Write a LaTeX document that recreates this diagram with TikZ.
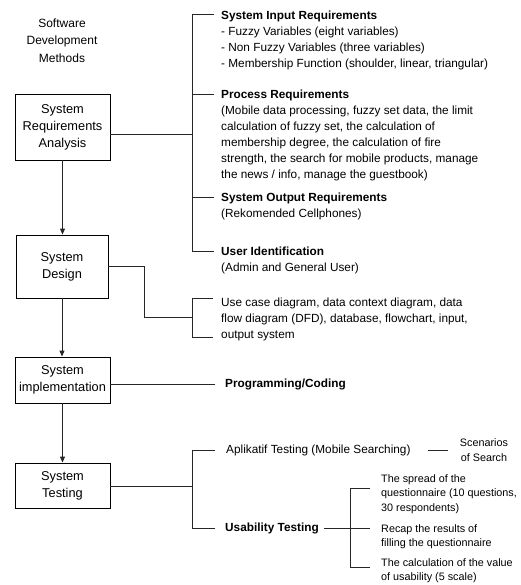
\documentclass[tikz,border=0pt]{standalone}
\usepackage{fontspec}
\setmainfont{Liberation Sans}
\usetikzlibrary{arrows.meta}

\newcommand{\stagefont}{\fontsize{12.8}{17}\selectfont}
\newcommand{\notefont}{\fontsize{11.8}{16}\selectfont}
\newcommand{\subnotefont}{\fontsize{10.8}{14.5}\selectfont}

\tikzset{
  stage/.style={draw, line width=0.9pt, align=center, font=\stagefont,
    minimum width=95, inner sep=0pt},
  note/.style={anchor=north west, align=left, inner sep=0pt, font=\notefont},
  subnote/.style={note, font=\subnotefont},
  link/.style={line width=0.9pt, draw=black!85},
  flow/.style={link, -{Triangle[length=6pt,width=5pt]}}
}

\begin{document}
\begin{tikzpicture}[x=1pt, y=-1pt]
    \useasboundingbox (0,0) rectangle (520,585);
    % left column: the four stages
    \node[font=\fontsize{12}{17.5}\selectfont, align=center] (sdm) at (62,40.5) {Software\\Development\\Methods};
    \node[stage, minimum height=66] (sra) at (62.5,127) {System\\Requirements\\Analysis};
    \node[stage, minimum width=92, minimum height=63] (sd) at (62,266.5) {System\\Design};
    \node[stage, minimum height=46] (si) at (62.5,380) {System\\implementation};
    \node[stage, minimum height=45] (st) at (62.5,485.5) {System\\Testing};
    \draw[flow] (sra.south) -- (sra.south |- sd.north);
    \draw[flow] (sd.south) -- (sd.south |- si.north);
    \draw[flow] (si.south) -- (si.south |- st.north);

    % requirements
    \node[note] (inreq) at (221,11) {\textbf{System Input Requirements}\\- Fuzzy Variables (eight variables)\\- Non Fuzzy Variables (three variables)\\- Membership Function (shoulder, linear, triangular)};
    \node[note] (procreq) at (221,90) {\textbf{Process Requirements}\\(Mobile data processing, fuzzy set data, the limit\\calculation of fuzzy set, the calculation of\\membership degree, the calculation of fire\\strength, the search for mobile products, manage\\the news / info, manage the guestbook)};
    \node[note] (outreq) at (221,193) {\textbf{System Output Requirements}\\(Rekomended Cellphones)};
    \node[note] (userid) at (221,247) {\textbf{User Identification}\\(Admin and General User)};
    \coordinate (rqj) at (192,134);
    \coordinate (rq1) at (214,14);
    \coordinate (rq2) at (214,94);
    \coordinate (rq3) at (214,197);
    \coordinate (rq4) at (214,251);
    \draw[link] ([yshift=-7pt]sra.east) -- (rqj);
    \draw[link] (rq1) -| (rqj |- rq4) -- (rq4);
    \draw[link] (rq2) -- (rqj |- rq2);
    \draw[link] (rq3) -- (rqj |- rq3);

    % design
    \node[note] (dsgn) at (221,298) {Use case diagram, data context diagram, data\\flow diagram (DFD), database, flowchart, input,\\output system};
    \coordinate (dsk) at (144,317);
    \coordinate (dsj) at (192,317);
    \coordinate (ds1) at (213,298);
    \coordinate (ds2) at (213,337);
    \draw[link] (sd.east) -| (dsk) -- (dsj);
    \draw[link] (ds1) -| (dsj |- ds2) -- (ds2);

    % implementation
    \node[note, anchor=west, font=\notefont\bfseries] (coding) at (225,384) {Programming/Coding};
    \coordinate (cdt) at (215,384);
    \draw[link] (si.east |- cdt) -- (cdt);

    % testing
    \node[note, anchor=west] (aplik) at (226,450) {Aplikatif Testing (Mobile Searching)};
    \node[note, anchor=west, font=\notefont\bfseries] (usab) at (225,528) {Usability Testing};
    \coordinate (tsj) at (192,486);
    \coordinate (ts1) at (215,450);
    \coordinate (ts2) at (215,528);
    \draw[link] (st.east |- tsj) -- (tsj);
    \draw[link] (ts1) -| (tsj |- ts2) -- (ts2);

    \node[font=\subnotefont, align=center, inner sep=0pt] (scen) at (484,450) {Scenarios\\of Search};
    \draw[link] (428,450) coordinate (sc1) -- (448,450) coordinate (sc2);

    \node[subnote] (spread) at (381,474) {The spread of the\\questionnaire (10 questions,\\30 respondents)};
    \node[subnote] (recap) at (381,524) {Recap the results of\\filling the questionnaire};
    \node[subnote] (calc) at (381,558) {The calculation of the value\\of usability (5 scale)};
    \coordinate (usj) at (350,528);
    \coordinate (us1) at (370,488);
    \coordinate (us2) at (370,528);
    \coordinate (us3) at (370,567);
    \draw[link] ([xshift=5pt]usab.east) -- (us2);
    \draw[link] (us1) -| (usj |- us3) -- (us3);
\end{tikzpicture}
\end{document}
